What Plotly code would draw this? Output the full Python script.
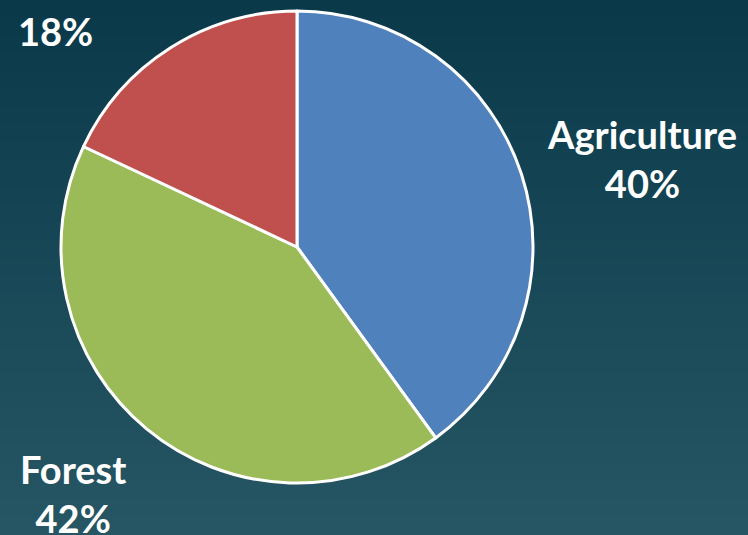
import plotly.graph_objects as go

# Land-use shares
categories = ["Agriculture", "Forest", "Other"]
shares = [40, 42, 18]
slice_colors = ["#4F81BD", "#9BBB59", "#C0504D"]
show_name = [True, True, False]

W, H = 748, 535

fig = go.Figure()

# Pie drawn clockwise from 12 o'clock
cx, cy, r = 297, 247, 236
fig.add_trace(go.Pie(
    labels=categories,
    values=shares,
    sort=False,
    direction="clockwise",
    rotation=0,
    marker=dict(colors=slice_colors, line=dict(color="white", width=3)),
    textinfo="none",
    hoverinfo="label+percent",
    showlegend=False,
    domain=dict(x=[(cx - r) / W, (cx + r) / W],
                y=[(H - cy - r) / H, (H - cy + r) / H]),
))

# Slice labels placed around the pie (pixel anchor positions)
label_pos = [(642, 158), (73, 493), (55, 31)]
font = dict(family="Lato, 'Open Sans', sans-serif", size=38, color="white")
for name, val, show, (px, py) in zip(categories, shares, show_name, label_pos):
    txt = f"<b>{name}</b><br><b>{val}%</b>" if show else f"<b>{val}%</b>"
    fig.add_annotation(
        x=px / W, y=1 - py / H, xref="paper", yref="paper",
        text=txt, showarrow=False, xanchor="center", yanchor="middle",
        font=font, align="center",
    )

# Vertical background gradient
top = (10, 58, 74)
bottom = (38, 86, 99)
n = 60
shapes = []
for i in range(n):
    t = i / (n - 1)
    c = tuple(round(top[k] + (bottom[k] - top[k]) * t) for k in range(3))
    shapes.append(dict(
        type="rect", xref="paper", yref="paper",
        x0=0, x1=1, y0=1 - (i + 1) / n, y1=1 - i / n + 0.002,
        fillcolor=f"rgb{c}", line=dict(width=0), layer="below",
    ))

fig.update_layout(
    width=W, height=H,
    margin=dict(l=0, r=0, t=0, b=0),
    paper_bgcolor="rgb(24,72,86)",
    plot_bgcolor="rgba(0,0,0,0)",
    shapes=shapes,
)

fig.write_html("out.html")
